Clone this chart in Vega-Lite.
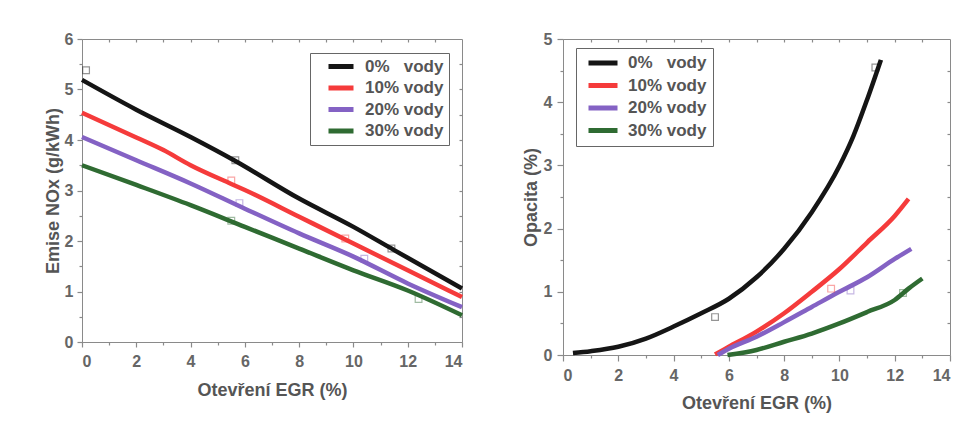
{
  "$schema": "https://vega.github.io/schema/vega-lite/v6.json",
  "background": "white",
  "padding": {"left": 43, "top": 30, "right": 5, "bottom": 5},
  "config": {
    "font": "Liberation Sans",
    "view": {"stroke": "#8a8a8a", "strokeWidth": 1},
    "axis": {
      "labelFont": "Liberation Sans",
      "titleFont": "Liberation Sans",
      "labelFontSize": 16,
      "labelFontWeight": "bold",
      "labelColor": "#666666",
      "titleFontSize": 18,
      "titleFontWeight": "bold",
      "titleColor": "#555555",
      "domainColor": "#8a8a8a",
      "tickColor": "#8a8a8a",
      "tickWidth": 1.2,
      "grid": false
    },
    "legend": {
      "labelFont": "Liberation Sans",
      "labelFontSize": 17,
      "labelFontWeight": "bold",
      "labelColor": "#555555",
      "labelLimit": 300,
      "symbolType": "stroke",
      "symbolStrokeWidth": 5,
      "strokeColor": "#666666",
      "fillColor": "white"
    }
  },
  "datasets": {
    "nox": [
      {"s": "0%\u00a0\u00a0 vody", "x": 0, "y": 5.19},
      {"s": "0%\u00a0\u00a0 vody", "x": 2, "y": 4.6},
      {"s": "0%\u00a0\u00a0 vody", "x": 4, "y": 4.06},
      {"s": "0%\u00a0\u00a0 vody", "x": 5.6, "y": 3.6},
      {"s": "0%\u00a0\u00a0 vody", "x": 8, "y": 2.84},
      {"s": "0%\u00a0\u00a0 vody", "x": 10, "y": 2.28},
      {"s": "0%\u00a0\u00a0 vody", "x": 11.5, "y": 1.82},
      {"s": "0%\u00a0\u00a0 vody", "x": 14, "y": 1.06},
      {"s": "10% vody", "x": 0, "y": 4.54},
      {"s": "10% vody", "x": 2, "y": 4.05},
      {"s": "10% vody", "x": 3, "y": 3.8},
      {"s": "10% vody", "x": 4, "y": 3.5},
      {"s": "10% vody", "x": 5.5, "y": 3.13},
      {"s": "10% vody", "x": 6, "y": 3.01},
      {"s": "10% vody", "x": 8, "y": 2.48},
      {"s": "10% vody", "x": 10, "y": 1.95},
      {"s": "10% vody", "x": 12, "y": 1.42},
      {"s": "10% vody", "x": 14, "y": 0.89},
      {"s": "20% vody", "x": 0, "y": 4.06},
      {"s": "20% vody", "x": 2, "y": 3.6},
      {"s": "20% vody", "x": 4, "y": 3.14},
      {"s": "20% vody", "x": 6, "y": 2.64},
      {"s": "20% vody", "x": 8, "y": 2.15},
      {"s": "20% vody", "x": 10, "y": 1.69},
      {"s": "20% vody", "x": 12, "y": 1.16},
      {"s": "20% vody", "x": 14, "y": 0.69},
      {"s": "30% vody", "x": 0, "y": 3.5},
      {"s": "30% vody", "x": 2, "y": 3.11},
      {"s": "30% vody", "x": 4, "y": 2.71},
      {"s": "30% vody", "x": 6, "y": 2.28},
      {"s": "30% vody", "x": 8, "y": 1.85},
      {"s": "30% vody", "x": 10, "y": 1.42},
      {"s": "30% vody", "x": 12, "y": 1.02},
      {"s": "30% vody", "x": 14, "y": 0.53}
    ],
    "noxpts": [
      {"s": "0%\u00a0\u00a0 vody", "x": 0.15, "y": 5.38},
      {"s": "0%\u00a0\u00a0 vody", "x": 5.65, "y": 3.6},
      {"s": "0%\u00a0\u00a0 vody", "x": 11.4, "y": 1.85},
      {"s": "10% vody", "x": 5.5, "y": 3.2},
      {"s": "10% vody", "x": 9.7, "y": 2.05},
      {"s": "20% vody", "x": 5.8, "y": 2.75},
      {"s": "20% vody", "x": 10.4, "y": 1.65},
      {"s": "30% vody", "x": 5.5, "y": 2.4},
      {"s": "30% vody", "x": 12.4, "y": 0.85}
    ],
    "opac": [
      {"s": "0%\u00a0\u00a0 vody", "x": 0.36, "y": 0.03},
      {"s": "0%\u00a0\u00a0 vody", "x": 1, "y": 0.06},
      {"s": "0%\u00a0\u00a0 vody", "x": 2, "y": 0.13},
      {"s": "0%\u00a0\u00a0 vody", "x": 3, "y": 0.26},
      {"s": "0%\u00a0\u00a0 vody", "x": 4, "y": 0.45},
      {"s": "0%\u00a0\u00a0 vody", "x": 5, "y": 0.66},
      {"s": "0%\u00a0\u00a0 vody", "x": 6, "y": 0.89},
      {"s": "0%\u00a0\u00a0 vody", "x": 7, "y": 1.23},
      {"s": "0%\u00a0\u00a0 vody", "x": 8, "y": 1.68},
      {"s": "0%\u00a0\u00a0 vody", "x": 9, "y": 2.26},
      {"s": "0%\u00a0\u00a0 vody", "x": 10, "y": 2.99},
      {"s": "0%\u00a0\u00a0 vody", "x": 10.5, "y": 3.46},
      {"s": "0%\u00a0\u00a0 vody", "x": 11, "y": 4.04},
      {"s": "0%\u00a0\u00a0 vody", "x": 11.5, "y": 4.67},
      {"s": "10% vody", "x": 5.5, "y": 0.01},
      {"s": "10% vody", "x": 6, "y": 0.13},
      {"s": "10% vody", "x": 7, "y": 0.37},
      {"s": "10% vody", "x": 8, "y": 0.66},
      {"s": "10% vody", "x": 9, "y": 1.0},
      {"s": "10% vody", "x": 10, "y": 1.36},
      {"s": "10% vody", "x": 11, "y": 1.78},
      {"s": "10% vody", "x": 12, "y": 2.2},
      {"s": "10% vody", "x": 12.5, "y": 2.47},
      {"s": "20% vody", "x": 5.6, "y": 0.0},
      {"s": "20% vody", "x": 6, "y": 0.1},
      {"s": "20% vody", "x": 7, "y": 0.29},
      {"s": "20% vody", "x": 8, "y": 0.52},
      {"s": "20% vody", "x": 9, "y": 0.76},
      {"s": "20% vody", "x": 10, "y": 1.0},
      {"s": "20% vody", "x": 11, "y": 1.23},
      {"s": "20% vody", "x": 12, "y": 1.52},
      {"s": "20% vody", "x": 12.6, "y": 1.68},
      {"s": "30% vody", "x": 5.95, "y": 0.0},
      {"s": "30% vody", "x": 7, "y": 0.08},
      {"s": "30% vody", "x": 8, "y": 0.21},
      {"s": "30% vody", "x": 9, "y": 0.34},
      {"s": "30% vody", "x": 10, "y": 0.5},
      {"s": "30% vody", "x": 11, "y": 0.68},
      {"s": "30% vody", "x": 12, "y": 0.87},
      {"s": "30% vody", "x": 12.5, "y": 1.05},
      {"s": "30% vody", "x": 13, "y": 1.21}
    ],
    "opacpts": [
      {"s": "0%\u00a0\u00a0 vody", "x": 5.5, "y": 0.6},
      {"s": "0%\u00a0\u00a0 vody", "x": 11.3, "y": 4.55},
      {"s": "10% vody", "x": 9.7, "y": 1.05},
      {"s": "20% vody", "x": 10.4, "y": 1.02},
      {"s": "30% vody", "x": 12.3, "y": 0.98}
    ]
  },
  "spacing": 49,
  "resolve": {"legend": {"color": "independent"}},
  "hconcat": [
    {
      "width": 380,
      "height": 303,
      "resolve": {"axis": {"x": "independent", "y": "independent"}},
      "layer": [
        {
          "data": {"name": "nox"},
          "mark": {"type": "line", "strokeWidth": 4.5, "interpolate": "monotone"},
          "encoding": {
            "x": {
              "field": "x", "type": "quantitative",
              "scale": {"domain": [0, 14], "nice": false, "zero": false},
              "axis": {
                "title": "Otevření EGR (%)",
                "values": [0,1,2,3,4,5,6,7,8,9,10,11,12,13,14],
                "labelExpr": "datum.value % 2 === 0 ? '' + datum.value : ''",
                "tickSize": {"condition": {"test": "datum.value % 2 === 0", "value": 5}, "value": 3},
                "labelPadding": 6,
                "titlePadding": 12
              }
            },
            "y": {
              "field": "y", "type": "quantitative",
              "scale": {"domain": [0, 6], "nice": false},
              "axis": {
                "title": "Emise NOx (g/kWh)",
                "values": [0,0.5,1,1.5,2,2.5,3,3.5,4,4.5,5,5.5,6],
                "labelExpr": "datum.value % 1 === 0 ? '' + datum.value : ''",
                "tickSize": {"condition": {"test": "datum.value % 1 === 0", "value": 5}, "value": 3},
                "labelPadding": 4,
                "titlePadding": 2
              }
            },
            "color": {
              "field": "s", "type": "nominal",
              "scale": {"domain": ["0%\u00a0\u00a0 vody", "10% vody", "20% vody", "30% vody"], "range": ["#151515", "#f53b3b", "#8462c4", "#2f6b32"]},
              "legend": {"orient": "none", "legendX": 228, "legendY": 14, "title": null, "symbolSize": 625, "clipHeight": 17, "rowPadding": 3.5, "padding": 5, "symbolOffset": 11, "labelOffset": 9}
            }
          }
        },
        {
          "data": {"name": "noxpts"},
          "mark": {"type": "point", "shape": "square", "filled": false, "size": 45, "strokeWidth": 1.2, "opacity": 0.45},
          "encoding": {
            "x": {
              "field": "x", "type": "quantitative",
              "scale": {"domain": [0, 14], "nice": false, "zero": false},
              "axis": {"orient": "top", "labels": false, "title": null, "domain": false, "values": [1,2,3,4,5,6,7,8,9,10,11,12,13], "tickSize": -3}
            },
            "y": {
              "field": "y", "type": "quantitative",
              "scale": {"domain": [0, 6], "nice": false},
              "axis": {"orient": "right", "labels": false, "title": null, "domain": false, "values": [0.5,1,1.5,2,2.5,3,3.5,4,4.5,5,5.5], "tickSize": -3}
            },
            "stroke": {
              "field": "s", "type": "nominal",
              "scale": {"domain": ["0%\u00a0\u00a0 vody", "10% vody", "20% vody", "30% vody"], "range": ["#151515", "#f53b3b", "#8462c4", "#2f6b32"]},
              "legend": null
            }
          }
        }
      ]
    },
    {
      "width": 387,
      "height": 316,
      "resolve": {"axis": {"x": "independent", "y": "independent"}},
      "layer": [
        {
          "data": {"name": "opac"},
          "mark": {"type": "line", "strokeWidth": 4.5, "interpolate": "monotone"},
          "encoding": {
            "x": {
              "field": "x", "type": "quantitative",
              "scale": {"domain": [0, 14], "nice": false, "zero": false},
              "axis": {
                "title": "Otevření EGR (%)",
                "values": [0,1,2,3,4,5,6,7,8,9,10,11,12,13,14],
                "labelExpr": "datum.value % 2 === 0 ? '' + datum.value : ''",
                "tickSize": {"condition": {"test": "datum.value % 2 === 0", "value": 6}, "value": 3},
                "labelPadding": 6,
                "titlePadding": 11
              }
            },
            "y": {
              "field": "y", "type": "quantitative",
              "scale": {"domain": [0, 5], "nice": false},
              "axis": {
                "title": "Opacita (%)",
                "values": [0,0.5,1,1.5,2,2.5,3,3.5,4,4.5,5],
                "labelExpr": "datum.value % 1 === 0 ? '' + datum.value : ''",
                "tickSize": {"condition": {"test": "datum.value % 1 === 0", "value": 6}, "value": 3},
                "labelPadding": 5,
                "titlePadding": 3
              }
            },
            "color": {
              "field": "s", "type": "nominal",
              "scale": {"domain": ["0%\u00a0\u00a0 vody", "10% vody", "20% vody", "30% vody"], "range": ["#151515", "#f53b3b", "#8462c4", "#2f6b32"]},
              "legend": {"orient": "none", "legendX": 13, "legendY": 9, "title": null, "symbolSize": 841, "clipHeight": 18, "rowPadding": 4.5, "padding": 6, "symbolOffset": 4, "labelOffset": 8}
            }
          }
        },
        {
          "data": {"name": "opacpts"},
          "mark": {"type": "point", "shape": "square", "filled": false, "size": 45, "strokeWidth": 1.2, "opacity": 0.45},
          "encoding": {
            "x": {
              "field": "x", "type": "quantitative",
              "scale": {"domain": [0, 14], "nice": false, "zero": false},
              "axis": {"orient": "top", "labels": false, "title": null, "domain": false, "values": [1,2,3,4,5,6,7,8,9,10,11,12,13], "tickSize": -3}
            },
            "y": {
              "field": "y", "type": "quantitative",
              "scale": {"domain": [0, 5], "nice": false},
              "axis": {"orient": "right", "labels": false, "title": null, "domain": false, "values": [0.5,1,1.5,2,2.5,3,3.5,4,4.5], "tickSize": -3}
            },
            "stroke": {
              "field": "s", "type": "nominal",
              "scale": {"domain": ["0%\u00a0\u00a0 vody", "10% vody", "20% vody", "30% vody"], "range": ["#151515", "#f53b3b", "#8462c4", "#2f6b32"]},
              "legend": null
            }
          }
        }
      ]
    }
  ]
}
